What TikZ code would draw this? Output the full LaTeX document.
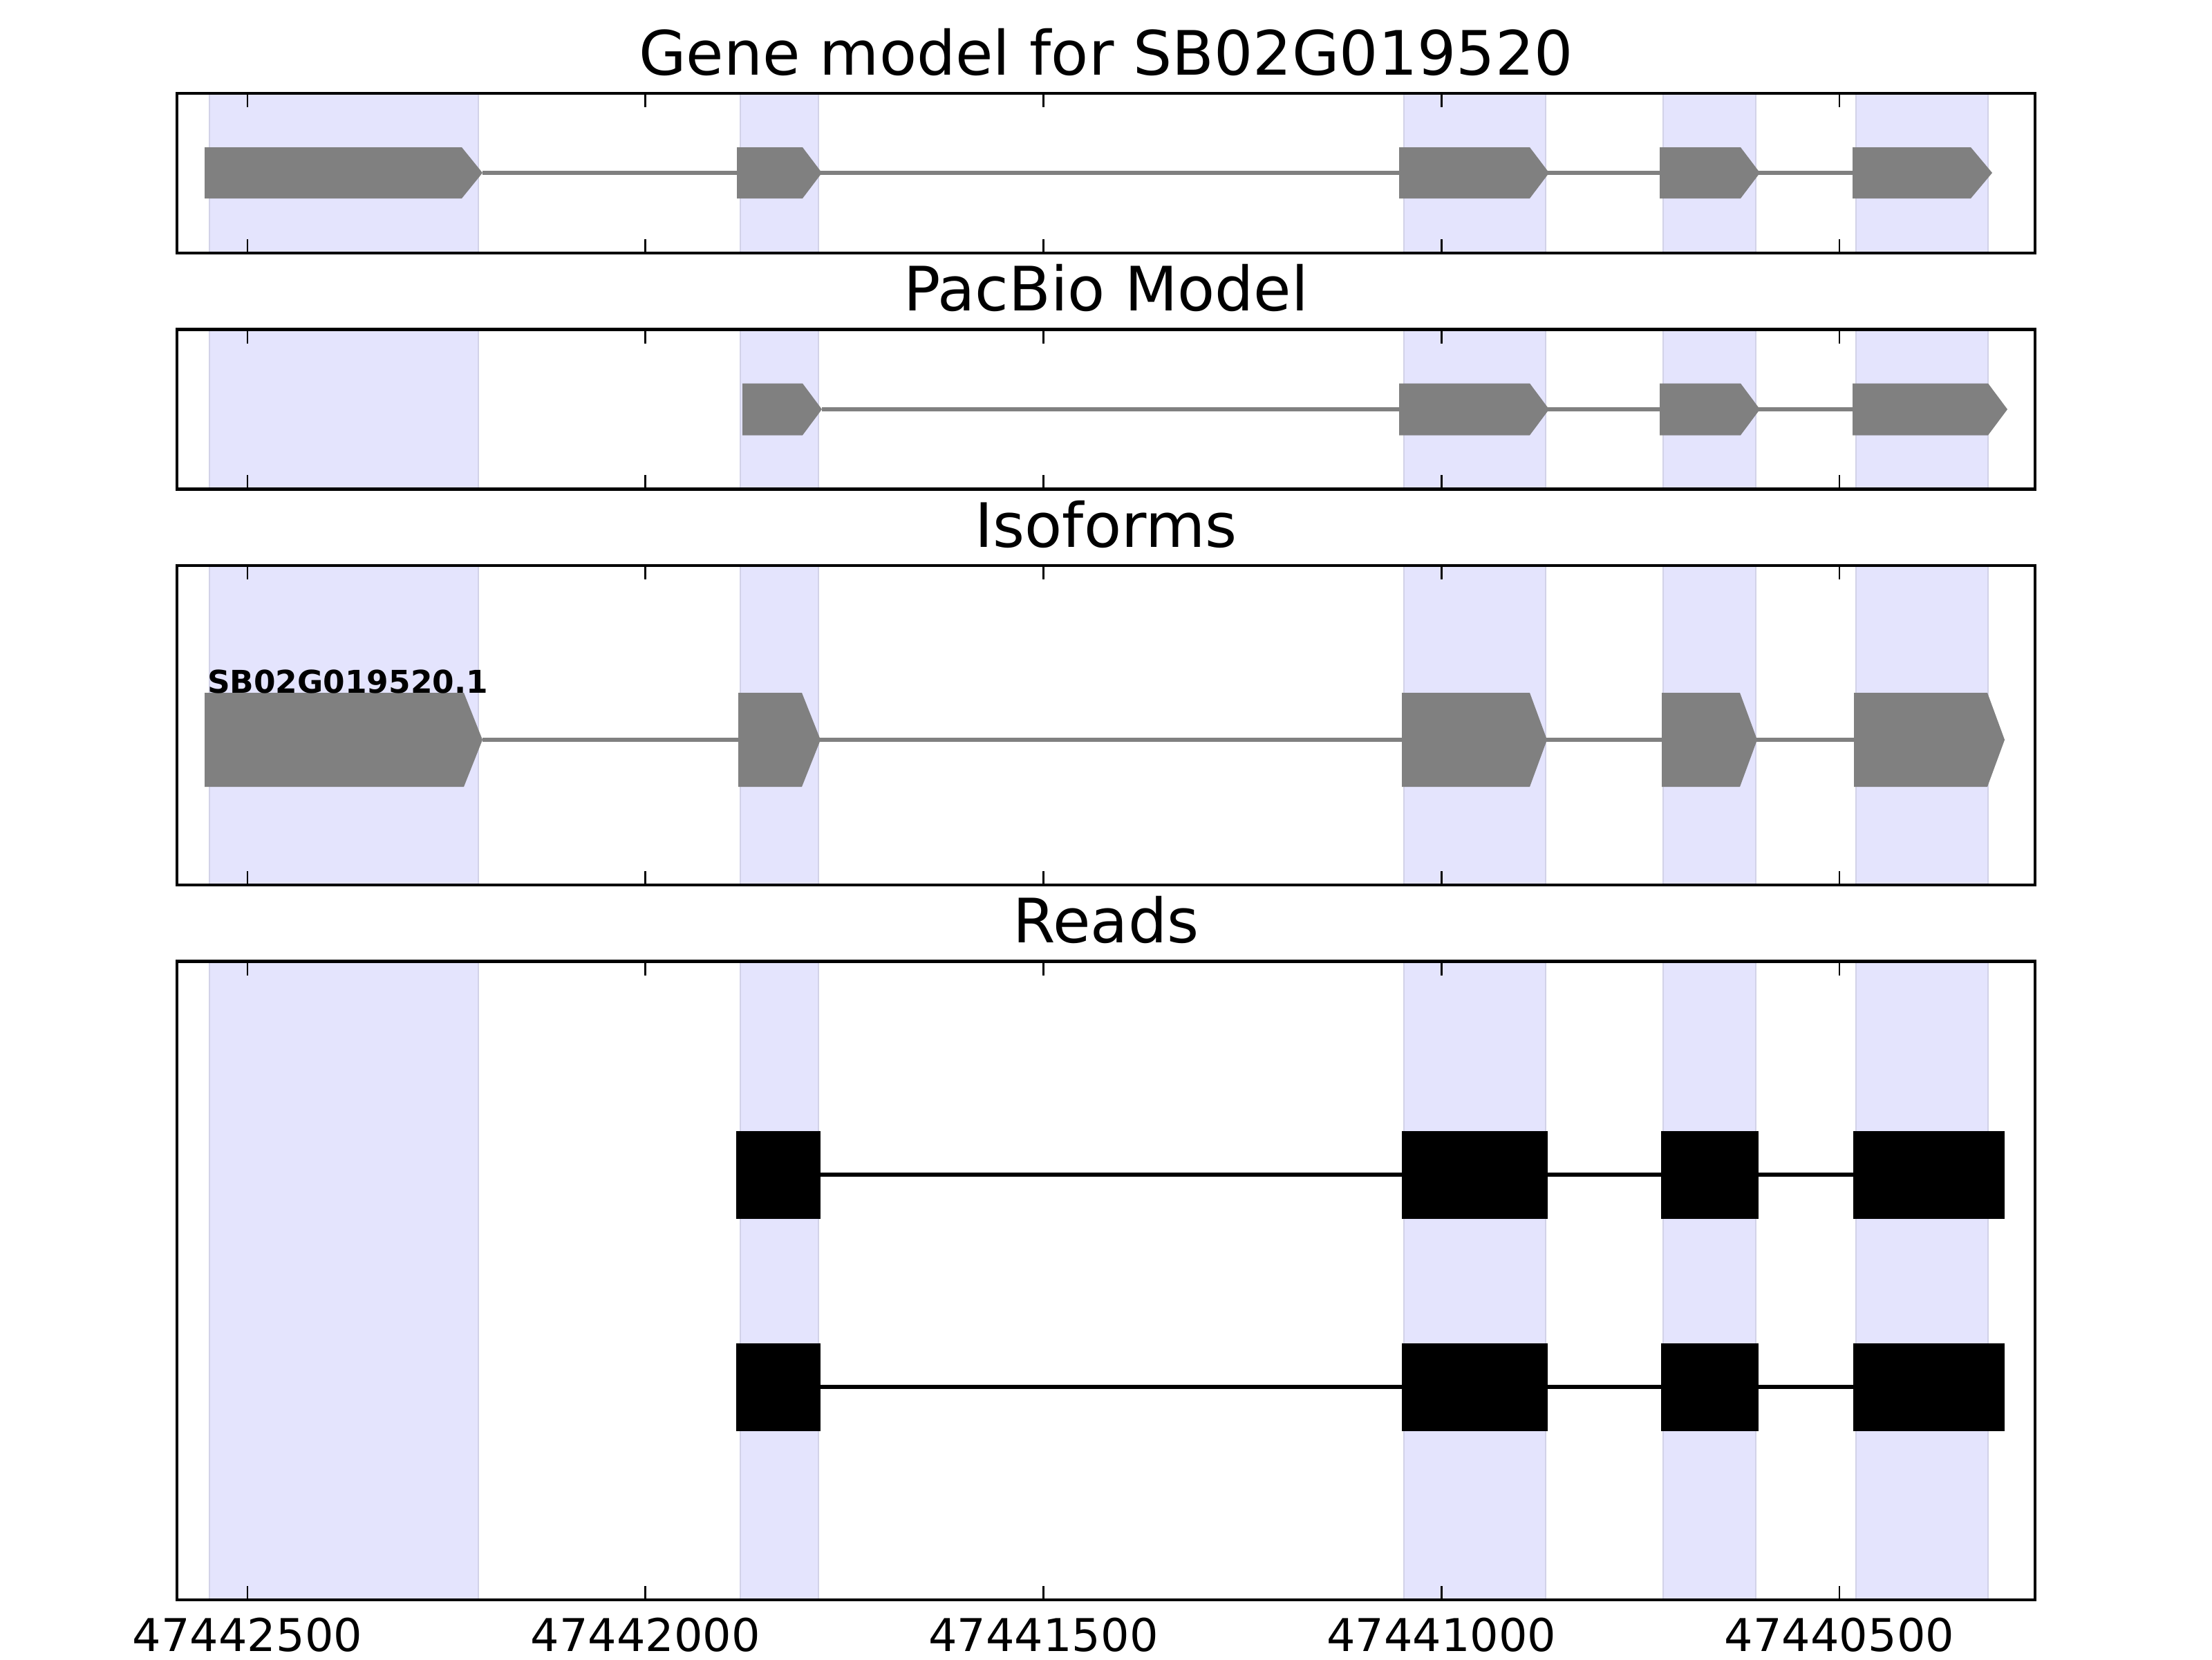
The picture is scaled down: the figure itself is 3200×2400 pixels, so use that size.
\documentclass[tikz,border=0pt]{standalone}
\usepackage{fontspec}
\setmainfont{DejaVu Sans}
\usepackage{tikz}

\definecolor{bandblue}{RGB}{228,228,253}
\definecolor{bandedge}{RGB}{210,210,232}

% exon arrow: centre, half height, start, neck, tip
\newcommand{\exon}[5]{%
  \fill[exon] (#3,#1-#2) -- (#4,#1-#2) -- (#5,#1) -- (#4,#1+#2) -- (#3,#1+#2) -- cycle;}
% shaded exon bands and ticks of one panel: top, bottom
\newcommand{\panel}[2]{%
  \foreach \a/\b in {303/692,1071/1184,2031/2236,2406/2540,2685/2876}
    \filldraw[band] (\a,#1) rectangle (\b,#2);
  \foreach \t in {0,...,4} {
    \draw[tickmark] ({358+575.75*\t},#1) -- ++(0,20);
    \draw[tickmark] ({358+575.75*\t},#2) -- ++(0,-20);
  }}

\begin{document}
\begin{tikzpicture}[x=0.1807pt, y=-0.1807pt,
  frame/.style={line width=0.8pt},
  tickmark/.style={line width=0.5pt},
  band/.style={fill=bandblue, draw=bandedge, line width=0.35pt},
  exon/.style={fill=gray},
  intron/.style={gray, line width=1pt},
  readbox/.style={fill=black},
  readline/.style={black, line width=1pt},
  paneltitle/.style={font=\fontsize{16}{19}\selectfont, anchor=base},
  ticklabel/.style={font=\fontsize{11.8}{14}\selectfont, anchor=base},
  isolabel/.style={font=\bfseries\fontsize{8.2}{10}\selectfont, anchor=base west, inner sep=0pt}]

\useasboundingbox (0,0) rectangle (3200,2400);

% gene model
\node[paneltitle] (genetitle) at (1600,108) {Gene model for SB02G019520};
\panel{135}{365.8}
\draw[intron] (698,250) -- (2680,250);
\exon{250}{37}{296}{668}{698}
\exon{250}{37}{1066}{1161}{1189}
\exon{250}{37}{2024}{2213}{2241}
\exon{250}{37}{2401}{2518}{2546}
\exon{250}{37}{2680}{2851}{2882}
\draw[frame] (256,135) rectangle (2944,365.8);

% pacbio
\node[paneltitle] (pacbiotitle) at (1600,449.6) {PacBio Model};
\panel{476.6}{707.4}
\draw[intron] (1189,592) -- (2680,592);
\exon{592}{37.5}{1074}{1161}{1189}
\exon{592}{37.5}{2024}{2213}{2241}
\exon{592}{37.5}{2401}{2518}{2546}
\exon{592}{37.5}{2680}{2876}{2904}
\draw[frame] (256,476.6) rectangle (2944,707.4);

% isoforms
\node[paneltitle] (isotitle) at (1600,791.2) {Isoforms};
\panel{818.2}{1279.8}
\draw[intron] (698,1070) -- (2682,1070);
\exon{1070}{68}{296}{671}{698}
\exon{1070}{68}{1068}{1160}{1187}
\exon{1070}{68}{2028}{2213}{2238}
\exon{1070}{68}{2404}{2517}{2542}
\exon{1070}{68}{2682}{2875}{2900}
\node[isolabel] (isoname) at (299,1002) {SB02G019520.1};
\draw[frame] (256,818.2) rectangle (2944,1279.8);

% reads
\node[paneltitle] (readstitle) at (1600,1363.6) {Reads};
\panel{1390.6}{2314}
\foreach \y in {1699,2006} {
  \draw[readline] (1187,\y) -- (2681,\y);
  \foreach \a/\b in {1065/1187,2028/2239,2403/2544,2681/2900}
    \fill[readbox] (\a,\y-63.5) rectangle (\b,\y+63.5);
}
\draw[frame] (256,1390.6) rectangle (2944,2314);

\foreach \t/\lab in {0/47442500,1/47442000,2/47441500,3/47441000,4/47440500}
  \node[ticklabel] (tl\t) at ({358+575.75*\t},2388) {\lab};

\end{tikzpicture}
\end{document}
